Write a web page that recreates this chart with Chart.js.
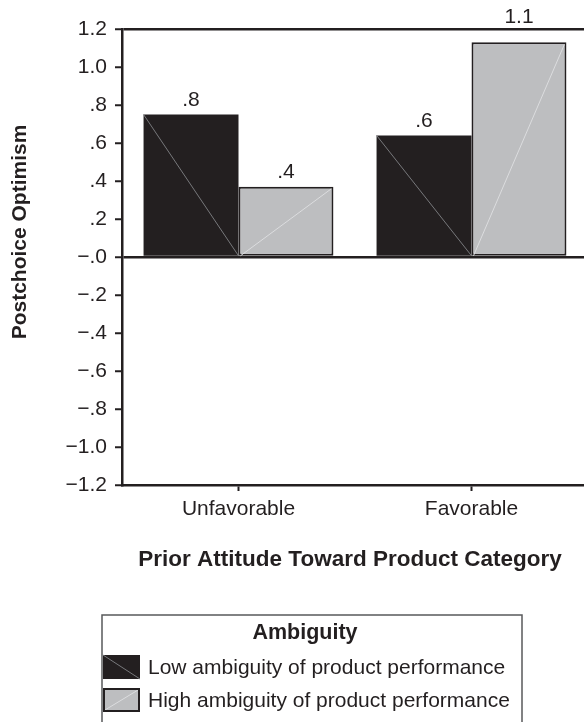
<!DOCTYPE html>
<html>
<head>
<meta charset="utf-8">
<script src="https://cdn.jsdelivr.net/npm/chart.js@4"></script>
<style>
    html, body { margin: 0; padding: 0; background: #fff; overflow: hidden; }
    canvas { display: block; }
</style>
</head>
<body>
<canvas id="optimismChart" width="592" height="722"></canvas>
<script>
const categories = ["Unfavorable", "Favorable"];
const seriesNames = ["Low ambiguity of product performance", "High ambiguity of product performance"];
const lowAmbiguity = [0.75, 0.64];
const highAmbiguity = [0.37, 1.13];
const lowLabels = [".8", ".6"];
const highLabels = [".4", "1.1"];
const yTickLabels = ["\u22121.2", "\u22121.0", "\u2212.8", "\u2212.6", "\u2212.4", "\u2212.2", "\u2212.0",
    ".2", ".4", ".6", ".8", "1.0", "1.2"];
const legendTitle = "Ambiguity";
const xTitle = "Prior Attitude Toward Product Category";
const yTitle = "Postchoice Optimism";

const DARK = "#231f20";
const GRAY = "#bdbec0";
const FONT = "'Liberation Sans', Arial, Helvetica, sans-serif";

// diagonal hairlines inside the bars, value labels, titles and the boxed legend
const decorPlugin = {
    id: "decor",
    afterDatasetsDraw(chart) {
        const ctx = chart.ctx;
        const area = chart.chartArea;
        const labelSets = [lowLabels, highLabels];
        chart.data.datasets.forEach((ds, di) => {
            const meta = chart.getDatasetMeta(di);
            meta.data.forEach((bar, i) => {
                const p = bar.getProps(["x", "y", "base", "width"], true);
                const left = p.x - p.width / 2;
                const right = p.x + p.width / 2;
                ctx.save();
                ctx.lineWidth = 1;
                ctx.beginPath();
                if (di === 0) {
                    ctx.strokeStyle = "#77787b";
                    ctx.moveTo(left, p.y);
                    ctx.lineTo(right, p.base);
                } else {
                    ctx.strokeStyle = "#dcdddf";
                    ctx.moveTo(left + 2, p.base);
                    ctx.lineTo(right - 2, p.y + 2);
                }
                ctx.stroke();

                ctx.fillStyle = DARK;
                ctx.font = "21px " + FONT;
                ctx.textAlign = "center";
                ctx.textBaseline = "middle";
                let ly = p.y - 14;
                if (ly < area.top + 10) ly = area.top - 12;
                ctx.fillText(labelSets[di][i], p.x, ly);
                ctx.restore();
            });
        });
    },
    afterDraw(chart) {
        const ctx = chart.ctx;
        ctx.save();
        ctx.fillStyle = DARK;
        ctx.font = "bold 22.5px " + FONT;
        ctx.textAlign = "center";
        ctx.textBaseline = "middle";
        ctx.fillText(xTitle, 350, 560);

        ctx.save();
        ctx.font = "bold 21px " + FONT;
        ctx.translate(20, 232);
        ctx.rotate(-Math.PI / 2);
        ctx.fillText(yTitle, 0, 0);
        ctx.restore();

        // legend box
        ctx.strokeStyle = "#58595b";
        ctx.lineWidth = 1.5;
        ctx.strokeRect(102, 615, 420, 130);
        ctx.font = "bold 21.5px " + FONT;
        ctx.fillText(legendTitle, 305, 633);

        ctx.font = "21px " + FONT;
        ctx.textAlign = "left";
        const rows = [667, 700];
        seriesNames.forEach((name, i) => {
            const top = rows[i] - 12;
            if (i === 0) {
                ctx.fillStyle = DARK;
                ctx.fillRect(103, top, 37, 24);
                ctx.strokeStyle = "#77787b";
                ctx.lineWidth = 1;
                ctx.beginPath();
                ctx.moveTo(103, top);
                ctx.lineTo(140, top + 24);
                ctx.stroke();
            } else {
                ctx.fillStyle = GRAY;
                ctx.fillRect(103, top, 37, 24);
                ctx.strokeStyle = "#dcdddf";
                ctx.lineWidth = 1;
                ctx.beginPath();
                ctx.moveTo(105, top + 22);
                ctx.lineTo(138, top + 2);
                ctx.stroke();
                ctx.strokeStyle = DARK;
                ctx.lineWidth = 2;
                ctx.strokeRect(104, top + 1, 35, 22);
            }
            ctx.fillStyle = DARK;
            ctx.fillText(name, 148, rows[i] + 1);
        });
        ctx.restore();
    }
};

const chartCtx = document.getElementById("optimismChart").getContext("2d");
new Chart(chartCtx, {
    type: "bar",
    data: {
        labels: categories,
        datasets: [{
            label: seriesNames[0],
            data: lowAmbiguity,
            backgroundColor: DARK,
            borderWidth: 0,
            categoryPercentage: 0.815,
            barPercentage: 1.0
        }, {
            label: seriesNames[1],
            data: highAmbiguity,
            backgroundColor: GRAY,
            borderColor: DARK,
            borderWidth: 2,
            borderSkipped: false,
            categoryPercentage: 0.815,
            barPercentage: 1.0
        }]
    },
    options: {
        responsive: false,
        animation: false,
        layout: {
            padding: { top: 29, right: 4, left: 0, bottom: 0 }
        },
        plugins: {
            legend: { display: false },
            tooltip: { enabled: false }
        },
        scales: {
            x: {
                afterFit: scale => { scale.height = 237; },
                grid: {
                    offset: false,
                    drawOnChartArea: false,
                    tickLength: 6,
                    tickColor: DARK,
                    tickWidth: 2
                },
                border: { display: true, color: DARK, width: 2.5 },
                ticks: {
                    color: DARK,
                    padding: 6,
                    font: { family: FONT, size: 21 }
                }
            },
            y: {
                min: -1.2,
                max: 1.2,
                afterFit: scale => { scale.width = 122; },
                grid: {
                    color: c => (c.tick && (Math.abs(c.tick.value) < 1e-6 || c.tick.value > 1.19)) ? DARK : "transparent",
                    lineWidth: 2.5,
                    tickLength: 7,
                    tickColor: DARK,
                    tickWidth: 2
                },
                border: { display: true, color: DARK, width: 2.5 },
                ticks: {
                    stepSize: 0.2,
                    color: DARK,
                    padding: 8,
                    font: { family: FONT, size: 21 },
                    callback: (value, index) => yTickLabels[index]
                }
            }
        }
    },
    plugins: [decorPlugin]
});
</script>
</body>
</html>
